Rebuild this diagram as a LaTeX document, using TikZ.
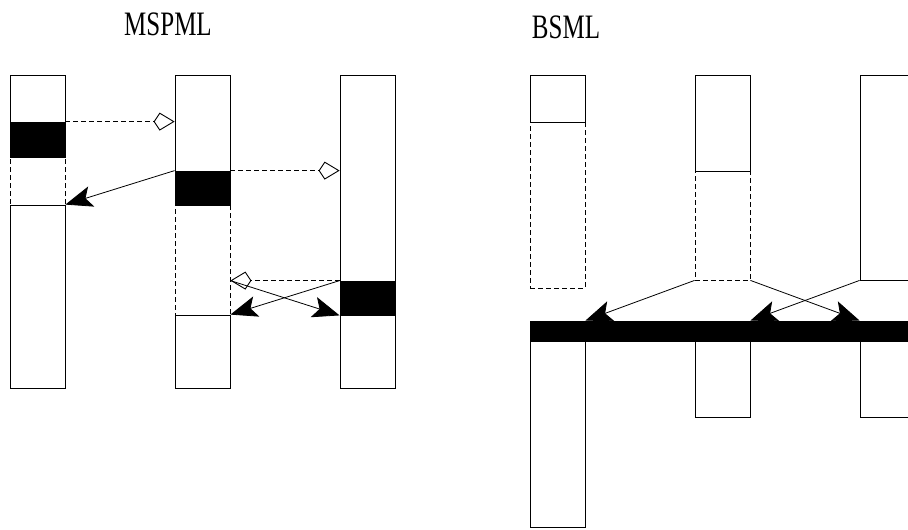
\documentclass[tikz,border=0pt]{standalone}
\usepackage{fontspec}
\setmainfont{Liberation Serif}
\usepackage{graphicx}
\usetikzlibrary{arrows.meta,fit}

\begin{document}
\begin{tikzpicture}[x=1pt, y=-1pt,
  seg/.style={draw, line width=0.8pt, inner sep=0pt},
  gap/.style={draw, line width=0.8pt, inner sep=0pt, dash pattern=on 5pt off 3pt},
  act/.style={draw, fill=black, line width=0.8pt, inner sep=0pt},
  msg/.style={-{Stealth[length=27pt, width=21pt, inset=6pt]}, line width=0.8pt},
  ret/.style={-{Kite[open, length=21pt, width=18pt, inset=6pt]}, line width=0.9pt,
              dash pattern=on 5pt off 3pt},
  lbl/.style={font=\fontsize{25}{25}\selectfont, inner sep=0pt}]
\clip (0,0) rectangle (908,530);

% MSPML
\node[lbl] (tl) at (168,24) {\scalebox{1}[1.37]{MSPML}};
\node[seg, fit={(10,75) (65,122)}] (topA) {};
\node[act, fit={(10,122) (65,157)}] (blkA) {};
\node[gap, fit={(10,157) (65,205)}] (gapA) {};
\node[seg, fit={(10,205) (65,388)}] (lowA) {};
\node[seg, fit={(175,75) (230,171)}] (topB) {};
\node[act, fit={(175,171) (230,205)}] (blkB) {};
\node[gap, fit={(175,205) (230,315)}] (gapB) {};
\node[seg, fit={(175,315) (230,388)}] (lowB) {};
\node[seg, fit={(340,75) (395,281)}] (topC) {};
\node[act, fit={(340,281) (395,315)}] (blkC) {};
\node[seg, fit={(340,315) (395,388)}] (lowC) {};
\draw[ret] (blkA.north east) -- (blkA.north east -| topB.west);
\draw[msg] (blkB.north west) -- (lowA.north east);
\draw[ret] (blkB.north east) -- (blkB.north east -| topC.west);
\draw[ret] (blkC.north west) -- (blkC.north west -| gapB.east);
\draw[msg] (blkC.north west) -- (lowB.north east);
\draw[msg] (blkC.north west -| gapB.east) -- (blkC.south west);

% BSML
\node[lbl] (tr) at (566,27) {\scalebox{1}[1.37]{BSML}};
\node[seg, fit={(530,75) (585,122)}] (topA2) {};
\node[gap, fit={(530,122) (585,288)}] (gapA2) {};
\node[seg, fit={(530,341) (585,527)}] (lowA2) {};
\node[seg, fit={(695,75) (750,171)}] (topB2) {};
\node[gap, fit={(695,171) (750,280)}] (gapB2) {};
\node[seg, fit={(695,341) (750,417)}] (lowB2) {};
\node[seg, fit={(860,75) (920,280)}] (topC2) {};
\node[seg, fit={(860,341) (920,417)}] (lowC2) {};
\node[act, fit={(530,321) (920,341)}] (bar) {};
\draw[msg] (gapB2.south west) -- (bar.north -| gapA2.east);
\draw[msg] (gapB2.south east) -- (bar.north -| lowC2.west);
\draw[msg] (topC2.south west) -- (bar.north -| gapB2.east);
\end{tikzpicture}
\end{document}
